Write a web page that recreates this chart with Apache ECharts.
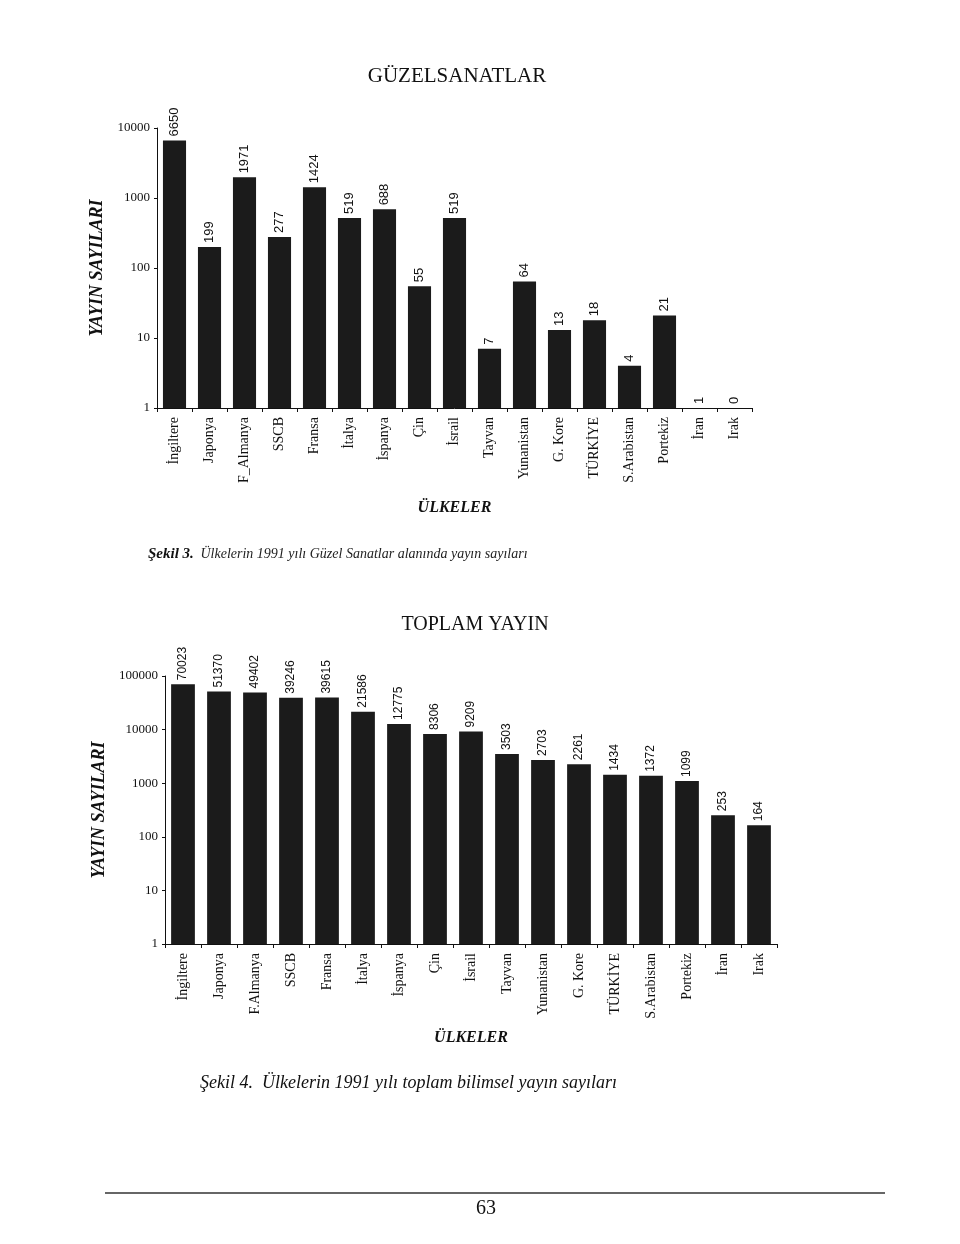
<!DOCTYPE html>
<html><head><meta charset="utf-8">
<script src="https://cdn.jsdelivr.net/npm/echarts@6/dist/echarts.min.js"></script>
<style>html,body{margin:0;padding:0;background:#fff}#c{width:960px;height:1244px}</style>
</head><body><div id="c"></div>
<script>
const topCategories = ['İngiltere','Japonya','F_Almanya','SSCB','Fransa','İtalya','İspanya','Çin','İsrail','Tayvan','Yunanistan','G. Kore','TÜRKİYE','S.Arabistan','Portekiz','İran','Irak'];
const topValues = [6650,199,1971,277,1424,519,688,55,519,7,64,13,18,4,21,1,0];
const bottomCategories = ['İngiltere','Japonya','F.Almanya','SSCB','Fransa','İtalya','İspanya','Çin','İsrail','Tayvan','Yunanistan','G. Kore','TÜRKİYE','S.Arabistan','Portekiz','İran','Irak'];
const bottomValues = [70023,51370,49402,39246,39615,21586,12775,8306,9209,3503,2703,2261,1434,1372,1099,253,164];
const topYTicks = [1,10,100,1000,10000];
const bottomYTicks = [1,10,100,1000,10000,100000];

const serif = "'Liberation Serif','Times New Roman',serif";
const sans = "'Liberation Sans',Arial,sans-serif";
const barColor = '#1b1b1b';
const chart = echarts.init(document.getElementById('c'), null, {renderer:'canvas'});

function yAxisCfg(idx, ticks, gap){
  return {
    type:'log', logBase:10, gridIndex:idx, min:ticks[0], max:ticks[ticks.length-1],
    name:'YAYIN SAYILARI', nameLocation:'middle', nameRotate:90, nameGap:gap,
    nameTextStyle:{fontFamily:serif, fontStyle:'italic', fontWeight:'bold', fontSize:18, color:'#111'},
    axisLine:{show:true, lineStyle:{color:'#111', width:1}},
    axisTick:{show:true, length:3, lineStyle:{color:'#111'}},
    minorTick:{show:false}, splitLine:{show:false},
    axisLabel:{fontFamily:serif, fontSize:13, color:'#111', margin:7,
      formatter:v=>String(Math.round(v))}
  };
}
function xAxisCfg(idx, cats, gap, fs){
  return {
    type:'category', gridIndex:idx, data:cats,
    name:'ÜLKELER', nameLocation:'middle', nameGap:gap,
    nameTextStyle:{fontFamily:serif, fontStyle:'italic', fontWeight:'bold', fontSize:16, color:'#111'},
    axisLine:{show:true, lineStyle:{color:'#111', width:1}},
    axisTick:{show:true, length:4, lineStyle:{color:'#111'}},
    axisLabel:{rotate:90, fontFamily:serif, fontSize:fs, color:'#111', margin:9, interval:0}
  };
}

chart.setOption({
  backgroundColor:'#fff',
  animation:false,
  title:[
    {text:'GÜZELSANATLAR', left:452, top:61, textAlign:'center',
     textStyle:{fontFamily:serif, fontSize:21, fontWeight:'normal', color:'#111'}},
    {text:'TOPLAM YAYIN', left:470, top:610, textAlign:'center',
     textStyle:{fontFamily:serif, fontSize:20, fontWeight:'normal', color:'#111'}}
  ],
  grid:[
    {left:157, top:128, width:595, height:280},
    {left:165, top:676, width:612, height:268}
  ],
  xAxis:[xAxisCfg(0, topCategories, 92, 14), xAxisCfg(1, bottomCategories, 86, 14)],
  yAxis:[yAxisCfg(0, topYTicks, 40), yAxisCfg(1, bottomYTicks, 54)],
  series:[
    {type:'bar', xAxisIndex:0, yAxisIndex:0, barWidth:'66%',
     data: topValues.map(v=>Math.max(v,1)),
     itemStyle:{color:barColor},
     label:{show:true, position:'top', rotate:90, align:'left', verticalAlign:'middle', distance:4,
       fontFamily:sans, fontSize:13, color:'#111',
       formatter:p=>String(topValues[p.dataIndex])}},
    {type:'bar', xAxisIndex:1, yAxisIndex:1, barWidth:'66%',
     data: bottomValues,
     itemStyle:{color:barColor},
     label:{show:true, position:'top', rotate:90, align:'left', verticalAlign:'middle', distance:4,
       fontFamily:sans, fontSize:12, color:'#111',
       formatter:p=>String(bottomValues[p.dataIndex])}}
  ],
  graphic:[
    {type:'text', left:148, top:547, style:{
      text:'{b|Şekil 3.}  {i|Ülkelerin 1991 yılı Güzel Sanatlar alanında yayın sayıları}',
      rich:{
        b:{fontFamily:serif, fontStyle:'italic', fontWeight:'bold', fontSize:15, fill:'#111'},
        i:{fontFamily:serif, fontStyle:'italic', fontSize:14, fill:'#222'}
      }}},
    {type:'text', left:200, top:1074, style:{
      text:'Şekil 4.  Ülkelerin 1991 yılı toplam bilimsel yayın sayıları',
      fontFamily:serif, fontStyle:'italic', fontSize:18, fill:'#111'}},
    {type:'line', shape:{x1:105, y1:1193, x2:885, y2:1193}, style:{stroke:'#333', lineWidth:1.5}},
    {type:'text', left:476, top:1199, style:{text:'63', fontFamily:serif, fontSize:20, fill:'#111'}}
  ]
});
</script></body></html>
